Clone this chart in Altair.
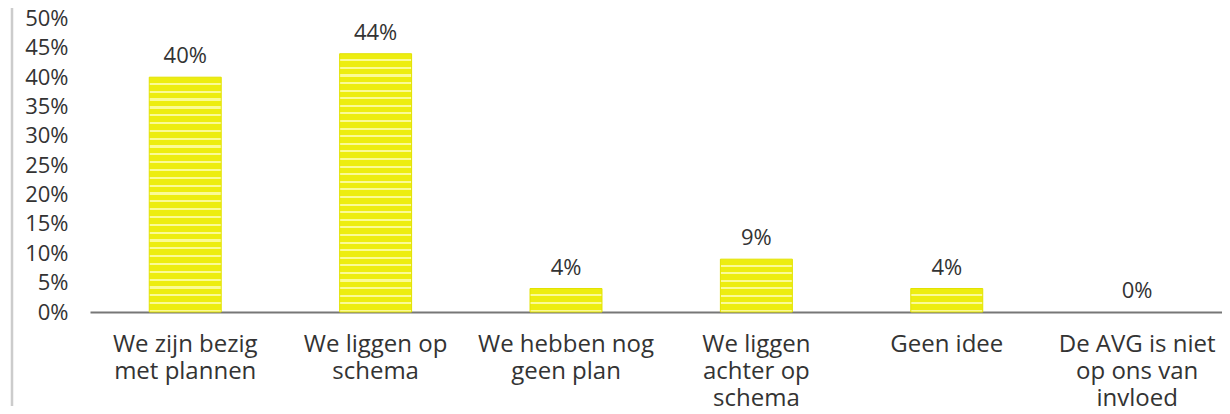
import altair as alt
import pandas as pd

categories = [
    "We zijn bezig\nmet plannen",
    "We liggen op\nschema",
    "We hebben nog\ngeen plan",
    "We liggen\nachter op\nschema",
    "Geen idee",
    "De AVG is niet\nop ons van\ninvloed",
]
values = [0.40, 0.44, 0.04, 0.09, 0.04, 0.00]
y_ticks = [0, 0.05, 0.10, 0.15, 0.20, 0.25, 0.30, 0.35, 0.40, 0.45, 0.50]

df = pd.DataFrame({"cat": categories, "val": values})

FONT = "Open Sans"
TXT = "#333333"
PLOT_H = 293.5
Y_MAX = 0.5
STRIPE_PX = 7.7
BAR_MAIN = "#EDED10"
BAR_LINE = "#FBFB96"

x = alt.X(
    "cat:N",
    sort=None,
    title=None,
    scale=alt.Scale(paddingInner=0.622, paddingOuter=0.284, align=0.548),
    axis=alt.Axis(
        labelAngle=0,
        labelFontSize=24,
        labelFont=FONT,
        labelColor=TXT,
        labelPadding=20,
        labelLineHeight=27,
        labelBaseline="top",
        labelLimit=0,
        labelExpr="split(datum.label, '\\n')",
        ticks=False,
        domainColor="#777777",
        domainWidth=2,
        grid=False,
    ),
)
y = alt.Y(
    "val:Q",
    title=None,
    scale=alt.Scale(domain=[0, Y_MAX], nice=False),
    axis=alt.Axis(
        values=y_ticks,
        format=".0%",
        labelFontSize=22,
        labelFont=FONT,
        labelColor=TXT,
        labelPadding=22,
        domain=False,
        ticks=False,
        grid=False,
    ),
)

base = alt.Chart(df)


def stripe_gradient(v):
    # decorative horizontal stripes, roughly one per STRIPE_PX of bar height
    k = max(1, round(v / Y_MAX * PLOT_H / STRIPE_PX))
    stops = []
    for j in range(k):
        a = j / k
        b = (j + 0.72) / k
        c = (j + 1) / k
        stops += [
            {"offset": a, "color": BAR_MAIN},
            {"offset": b, "color": BAR_MAIN},
            {"offset": b, "color": BAR_LINE},
            {"offset": c, "color": BAR_LINE},
        ]
    return {"gradient": "linear", "x1": 0, "y1": 0, "x2": 0, "y2": 1, "stops": stops}


bar_layers = []
for cat, v in zip(categories, values):
    if v <= 0:
        continue
    bar_layers.append(
        base.transform_filter(alt.datum.cat == cat)
        .mark_bar(color=stripe_gradient(v), stroke="#E2E200", strokeWidth=1)
        .encode(x=x, y=y)
    )

labels = base.mark_text(
    baseline="alphabetic", dy=-14, fontSize=22, font=FONT, color=TXT
).encode(x=x, y=y, text=alt.Text("val:Q", format=".0%"))

edge = alt.Chart(pd.DataFrame({"a": [0]})).mark_rule(
    color="#cccccc", strokeWidth=2.5, clip=False
).encode(x=alt.value(-78), y=alt.value(-20), y2=alt.value(400))

chart = (
    alt.layer(edge, *bar_layers, labels)
    .properties(
        width=1132,
        height=PLOT_H,
        padding={"left": 82, "top": 10.5, "right": 0, "bottom": 94},
        autosize=alt.AutoSizeParams(type="none"),
    )
    .configure_view(stroke=None)
)

chart.save("out.html", embed_options={"renderer": "svg", "actions": False})
